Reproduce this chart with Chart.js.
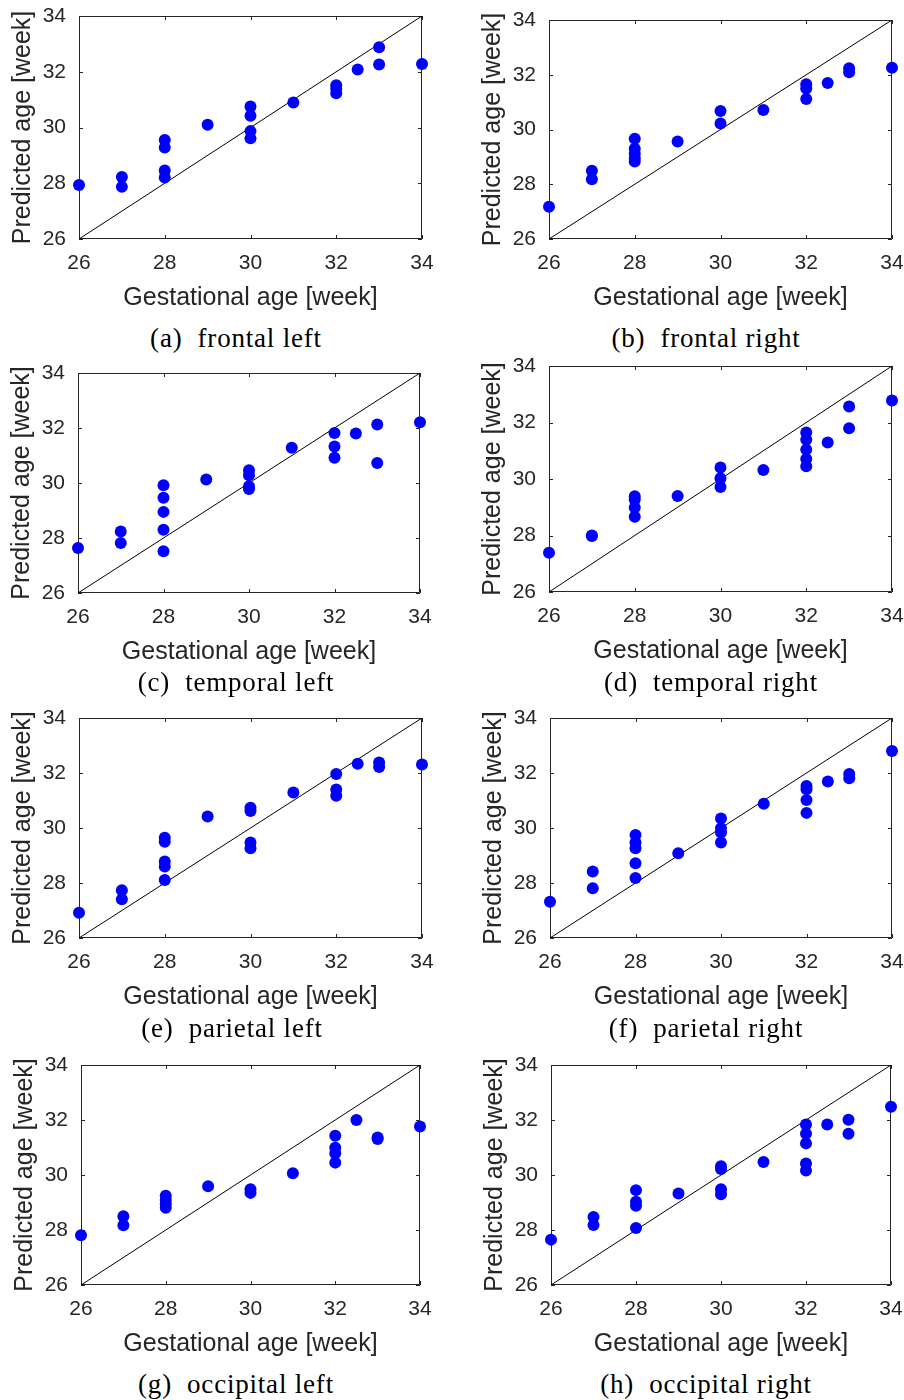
<!DOCTYPE html>
<html><head><meta charset="utf-8">
<script src="https://cdn.jsdelivr.net/npm/chart.js@4.4.0/dist/chart.umd.min.js"></script>
<style>
html,body{margin:0;padding:0;background:#fff;width:904px;height:1400px;overflow:hidden;}
#wrap{position:relative;width:904px;height:1400px;overflow:hidden;}
canvas{position:absolute;}
.cap{position:absolute;font-family:"Liberation Serif","Times New Roman",serif;font-size:27px;letter-spacing:0.8px;line-height:30px;color:#000;white-space:pre;transform:translateX(-50%);}
</style></head><body><div id="wrap"></div>
<script>
// ---------- data ----------
const axisTicks = [26, 28, 30, 32, 34];
const identityLine = [26, 34];
const xTitle = "Gestational age [week]";
const yTitle = "Predicted age [week]";

const frontalLeftGA   = [26, 27, 27, 28, 28, 28, 28, 29, 30, 30, 30, 30, 31, 32, 32, 32, 32.5, 33, 33, 34];
const frontalLeftPred = [27.94, 28.22, 27.87, 29.55, 29.28, 28.46, 28.21, 30.10, 30.75, 30.42, 29.87, 29.61, 30.90, 31.52, 31.38, 31.23, 32.08, 32.88, 32.26, 32.28];

const frontalRightGA   = [26, 27, 27, 28, 28, 28, 28, 28, 29, 30, 30, 31, 32, 32, 32, 32.5, 33, 33, 34];
const frontalRightPred = [27.18, 28.49, 28.18, 29.66, 29.30, 29.11, 28.95, 28.83, 29.56, 30.68, 30.22, 30.71, 31.65, 31.50, 31.11, 31.70, 32.24, 32.09, 32.26];

const temporalLeftGA   = [26, 27, 27, 28, 28, 28, 28, 28, 29, 30, 30, 30, 30, 31, 32, 32, 32, 32.5, 33, 33, 34];
const temporalLeftPred = [27.64, 28.24, 27.82, 29.92, 29.46, 28.95, 28.30, 27.52, 30.13, 30.46, 30.28, 29.88, 29.78, 31.28, 31.82, 31.33, 30.92, 31.80, 32.13, 30.73, 32.21];

const temporalRightGA   = [26, 27, 27, 28, 28, 28, 28, 29, 30, 30, 30, 31, 32, 32, 32, 32, 32, 32.5, 33, 33, 34];
const temporalRightPred = [27.39, 28.00, 27.98, 29.39, 29.27, 28.99, 28.66, 29.40, 30.41, 30.03, 29.72, 30.32, 31.65, 31.39, 31.04, 30.71, 30.45, 31.29, 32.57, 31.80, 32.78];

const parietalLeftGA   = [26, 27, 27, 28, 28, 28, 28, 28, 29, 30, 30, 30, 30, 31, 32, 32, 32, 32.5, 33, 33, 34];
const parietalLeftPred = [26.92, 27.74, 27.41, 29.65, 29.50, 28.78, 28.60, 28.11, 30.42, 30.74, 30.62, 29.47, 29.26, 31.29, 31.96, 31.40, 31.17, 32.34, 32.38, 32.22, 32.31];

const parietalRightGA   = [26, 27, 27, 28, 28, 28, 28, 28, 29, 30, 30, 30, 30, 31, 32, 32, 32, 32, 32.5, 33, 33, 34];
const parietalRightPred = [27.32, 28.42, 27.81, 29.75, 29.47, 29.26, 28.72, 28.18, 29.08, 30.35, 29.99, 29.84, 29.47, 30.88, 31.53, 31.41, 31.02, 30.55, 31.69, 31.96, 31.81, 32.80];

const occipitalLeftGA   = [26, 27, 27, 28, 28, 28, 28, 29, 30, 30, 31, 32, 32, 32, 32, 32.5, 33, 33, 34];
const occipitalLeftPred = [27.81, 28.50, 28.17, 29.25, 29.09, 28.95, 28.81, 29.59, 29.48, 29.35, 30.06, 31.43, 30.99, 30.79, 30.45, 32.00, 31.36, 31.31, 31.76];

const occipitalRightGA   = [26, 27, 27, 28, 28, 28, 28, 29, 30, 30, 30, 30, 31, 32, 32, 32, 32, 32, 32.5, 33, 33, 34];
const occipitalRightPred = [27.65, 28.47, 28.18, 29.45, 29.03, 28.88, 28.07, 29.33, 30.32, 30.22, 29.48, 29.30, 30.47, 31.84, 31.50, 31.15, 30.42, 30.16, 31.84, 32.01, 31.50, 32.48];

const captions = ["(a)  frontal left", "(b)  frontal right", "(c)  temporal left", "(d)  temporal right",
                  "(e)  parietal left", "(f)  parietal right", "(g)  occipital left", "(h)  occipital right"];

const panelGA   = [frontalLeftGA, frontalRightGA, temporalLeftGA, temporalRightGA, parietalLeftGA, parietalRightGA, occipitalLeftGA, occipitalRightGA];
const panelPred = [frontalLeftPred, frontalRightPred, temporalLeftPred, temporalRightPred, parietalLeftPred, parietalRightPred, occipitalLeftPred, occipitalRightPred];

// ---------- layout (page pixels of each plot box, caption centre) ----------
const layout = [
  {L:79,  R:422, T:16,   B:239,  cx:236, cy:338},
  {L:549, R:892, T:20,   B:239,  cx:706, cy:338},
  {L:78,  R:420, T:373,  B:593,  cx:236, cy:682},
  {L:549, R:892, T:366,  B:592,  cx:711, cy:682},
  {L:79,  R:422, T:718,  B:938,  cx:232, cy:1028},
  {L:550, R:892, T:718,  B:938,  cx:706, cy:1028},
  {L:81,  R:420, T:1065, B:1285, cx:236, cy:1384},
  {L:551, R:891, T:1065, B:1285, cx:706, cy:1384}
];

const TEXT = '#262626';
const SANS = '"Liberation Sans", Arial, Helvetica, sans-serif';
const Y_W = 79, X_H = 75, PAD_T = 28, PAD_R = 30;

const framePlugin = {
  id: 'frame',
  beforeDatasetsDraw(chart) {
    const {ctx, chartArea: {left, right, top, bottom}, scales: {x, y}} = chart;
    ctx.save();
    ctx.strokeStyle = TEXT;
    ctx.lineWidth = 1;
    ctx.beginPath();
    ctx.rect(Math.round(left) + 0.5, Math.round(top) + 0.5, Math.round(right - left) - 1, Math.round(bottom - top) - 1);
    const TL = 4;
    x.ticks.forEach(t => {
      const px = Math.round(x.getPixelForValue(t.value)) + 0.5;
      ctx.moveTo(px, bottom); ctx.lineTo(px, bottom - TL);
      ctx.moveTo(px, top); ctx.lineTo(px, top + TL);
    });
    y.ticks.forEach(t => {
      const py = Math.round(y.getPixelForValue(t.value)) + 0.5;
      ctx.moveTo(left, py); ctx.lineTo(left + TL, py);
      ctx.moveTo(right, py); ctx.lineTo(right - TL, py);
    });
    ctx.stroke();
    ctx.restore();
  }
};

const wrap = document.getElementById('wrap');

layout.forEach((p, i) => {
  const cLeft = p.L - Y_W;
  const cW = (p.R - p.L) + Y_W + PAD_R;
  const cTop = p.T - PAD_T;
  const cH = PAD_T + (p.B - p.T) + X_H;
  const canvas = document.createElement('canvas');
  canvas.width = cW; canvas.height = cH;
  canvas.style.left = cLeft + 'px'; canvas.style.top = cTop + 'px';
  canvas.style.width = cW + 'px'; canvas.style.height = cH + 'px';
  wrap.appendChild(canvas);

  const cap = document.createElement('div');
  cap.className = 'cap';
  cap.textContent = captions[i];
  cap.style.left = p.cx + 'px';
  cap.style.top = (p.cy - 15) + 'px';
  wrap.appendChild(cap);

  const pts = panelGA[i].map((g, k) => ({x: g, y: panelPred[i][k]}));
  const diag = identityLine.map(v => ({x: v, y: v}));

  new Chart(canvas, {
    type: 'scatter',
    data: {
      datasets: [
        {data: pts, backgroundColor: '#0000ff', borderWidth: 0, pointRadius: 6, pointHoverRadius: 6, clip: false, order: 0},
        {data: diag, showLine: true, borderColor: '#000', borderWidth: 1, pointRadius: 0, fill: false, order: 1}
      ]
    },
    options: {
      responsive: false,
      animation: false,
      devicePixelRatio: 1,
      events: [],
      layout: {padding: {left: 0, right: PAD_R, top: PAD_T, bottom: 0}},
      plugins: {legend: {display: false}, tooltip: {enabled: false}, title: {display: false}},
      scales: {
        x: {
          type: 'linear', min: 26, max: 34,
          afterBuildTicks: s => { s.ticks = axisTicks.map(v => ({value: v})); },
          afterFit: s => { s.height = X_H; },
          grid: {display: false, drawTicks: false},
          border: {display: false},
          ticks: {color: TEXT, font: {family: SANS, size: 21}, padding: 12, maxRotation: 0, autoSkip: false},
          title: {display: true, text: xTitle, color: TEXT, font: {family: SANS, size: 25}, padding: {top: 0, bottom: 1}}
        },
        y: {
          type: 'linear', min: 26, max: 34,
          afterBuildTicks: s => { s.ticks = axisTicks.map(v => ({value: v})); },
          afterFit: s => { s.width = Y_W; },
          grid: {display: false, drawTicks: false},
          border: {display: false},
          ticks: {color: TEXT, font: {family: SANS, size: 21}, padding: 13, autoSkip: false},
          title: {display: true, text: yTitle, color: TEXT, font: {family: SANS, size: 25}, padding: {top: 8, bottom: 0}}
        }
      }
    },
    plugins: [framePlugin]
  });
});
</script>
</body></html>
